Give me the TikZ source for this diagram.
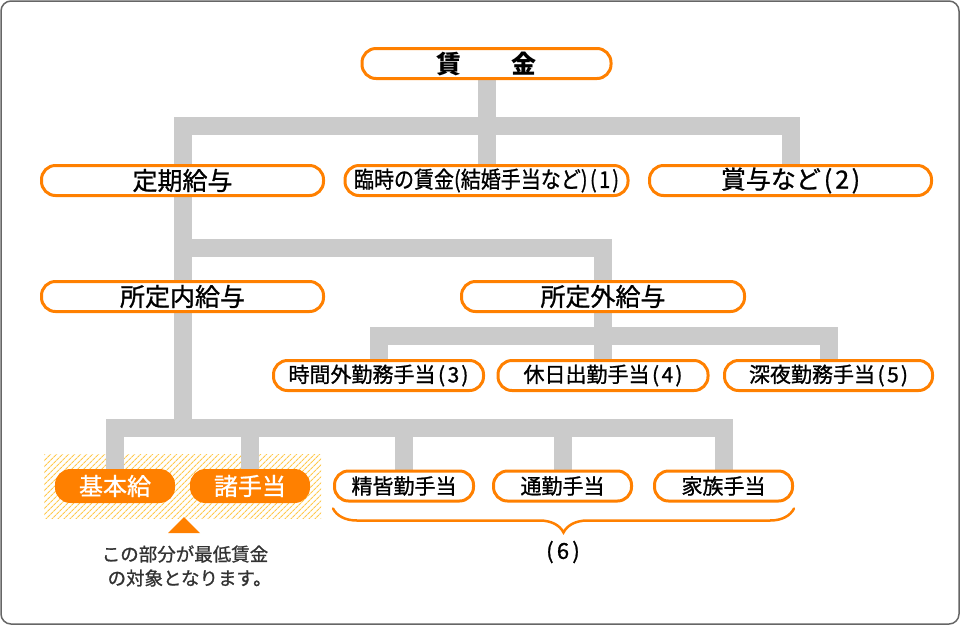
\documentclass[tikz,border=0pt]{standalone}
\usepackage{fontspec}
\setmainfont{Noto Sans CJK JP}[UprightFeatures={FakeBold=1}]
\usepackage{tikz}
\usetikzlibrary{backgrounds,fit,patterns.meta,decorations.pathreplacing}
\definecolor{lohnorange}{HTML}{FF8000}
\definecolor{bargray}{HTML}{CBCBCB}
\definecolor{hatchgold}{HTML}{FFC94D}
\definecolor{framegray}{HTML}{666666}
\definecolor{notegray}{HTML}{333333}
\newcommand{\nr}[1]{\kern.12em(\kern.12em#1\kern.1em)}
\tikzstyle{pill} = [rectangle, draw=lohnorange, line width=3pt, fill=white, rounded corners=14pt, minimum height=30pt, inner sep=0pt, font=\fontsize{25pt}{28pt}\selectfont]
\tikzstyle{small pill} = [pill, font=\fontsize{21pt}{24pt}\selectfont]
\tikzstyle{solid pill} = [pill, fill=lohnorange, text=white, minimum width=117pt, minimum height=31pt, font=\fontsize{24pt}{27pt}\selectfont]
\tikzstyle{bar} = [bargray, line width=18pt]

\begin{document}
\begin{tikzpicture}[x=1pt,y=-1pt]
  \useasboundingbox (0,0) rectangle (960,625);
  \draw[framegray, line width=1.5pt, rounded corners=10pt] (1,1) rectangle (959,624);

  \node[pill, minimum width=249pt, font=\fontsize{25pt}{28pt}\selectfont\bfseries] (Chingin) at (486.5,63.5) {賃　　金};
  \node[pill, minimum width=282pt] (Teiki) at (182.5,180.5) {定期給与};
  \node[pill, minimum width=283pt] (Rinji) at (486.5,180.5) {\fontsize{23pt}{26pt}\selectfont\scalebox{0.87}[1]{臨時の賃金(結婚手当など)\nr{1}}};
  \node[pill, minimum width=282pt] (Shoyo) at (790.5,180.5) {賞与など\nr{2}};
  \node[pill, minimum width=282pt] (Naikyu) at (182.5,296.5) {所定内給与};
  \node[pill, minimum width=283pt] (Gaikyu) at (603,296.5) {所定外給与};
  \node[small pill, minimum width=210pt] (Jikangai) at (378.5,375.5) {時間外勤務手当\nr{3}};
  \node[small pill, minimum width=210pt] (Kyujitsu) at (603,375.5) {休日出勤手当\nr{4}};
  \node[small pill, minimum width=208pt] (Shinya) at (828.5,375.5) {深夜勤務手当\nr{5}};
  \node[solid pill] (Kihon) at (115,486) {基本給};
  \node[solid pill] (Shoteate) at (250,486) {諸手当};
  \node[small pill, minimum width=139pt] (Seikaikin) at (404,486) {精皆勤手当};
  \node[small pill, minimum width=138pt] (Tsukin) at (562.5,486) {通勤手当};
  \node[small pill, minimum width=138pt] (Kazoku) at (723.5,486) {家族手当};

  \node (Sechs) at (563,552) {\fontsize{22pt}{24pt}\selectfont(\kern.15em6\kern.15em)};
  \node[text=notegray, align=center, font=\fontsize{18.5pt}{24pt}\selectfont] (Hinweis) at (185,566) {この部分が最低賃金\\の対象となります。\kern-.5em};
  \fill[lohnorange] (184,517) -- (200,533) -- (168,533) -- cycle;

  \draw[lohnorange, line width=2.5pt, line cap=round, decorate, decoration={brace, amplitude=24pt}]
    ([yshift=-6pt]Kazoku.south east) -- ([yshift=-6pt]Seikaikin.south west);

  \coordinate (L1) at (0,125.5);
  \coordinate (L2) at (0,247.5);
  \coordinate (L3) at (0,335.5);
  \coordinate (L4) at (0,428);

  \begin{pgfonlayer}{background}
    \node[fit=(Kihon)(Shoteate), inner xsep=11pt, inner ysep=15pt, pattern={Lines[angle=45, distance=4pt, line width=1.2pt]}, pattern color=hatchgold] (Schraffur) {};
    \draw[bar] (Chingin.south) -- (Rinji.north);
    \draw[bar] (Teiki.north) -- (Teiki.north |- L1) -- (Shoyo.north |- L1) -- (Shoyo.north);
    \draw[bar] (Teiki.south) -- (Naikyu.north);
    \draw[bar] (Teiki.south |- L2) -| (Gaikyu.north);
    \draw[bar] (Gaikyu.south) -- (Kyujitsu.north);
    \draw[bar] (Jikangai.north) -- (Jikangai.north |- L3) -- (Shinya.north |- L3) -- (Shinya.north);
    \draw[bar] (Naikyu.south) -- (Naikyu.south |- L4);
    \draw[bar] (Kihon.north) -- (Kihon.north |- L4) -- (Kazoku.north |- L4) -- (Kazoku.north);
    \foreach \n in {Shoteate,Seikaikin,Tsukin}
      \draw[bar] (\n.north) -- (\n.north |- L4);
  \end{pgfonlayer}
\end{tikzpicture}
\end{document}
